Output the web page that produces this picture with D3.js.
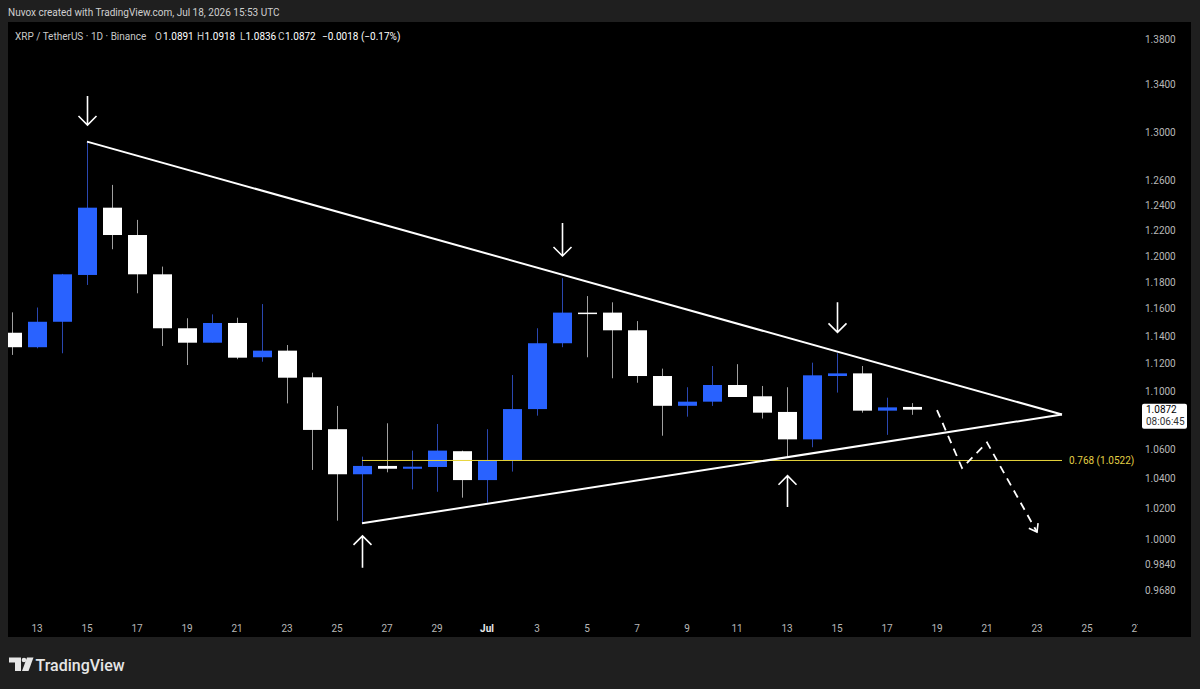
<!DOCTYPE html>
<html lang="en">
<head>
<meta charset="UTF-8">
<title>XRP / TetherUS 1D</title>
<script src="https://d3js.org/d3.v7.min.js"></script>
<style>
  body { margin: 0; background: #1f1f1f; }
  svg { display: block; font-family: Roboto, "Open Sans", sans-serif; }
</style>
</head>
<body>
<div id="chart"></div>
<script>
// daily candles XRP/USDT, Jun 12 - Jul 18 2026
const days = ["2026-06-12","2026-06-13","2026-06-14","2026-06-15","2026-06-16","2026-06-17","2026-06-18",
  "2026-06-19","2026-06-20","2026-06-21","2026-06-22","2026-06-23","2026-06-24","2026-06-25","2026-06-26",
  "2026-06-27","2026-06-28","2026-06-29","2026-06-30","2026-07-01","2026-07-02","2026-07-03","2026-07-04",
  "2026-07-05","2026-07-06","2026-07-07","2026-07-08","2026-07-09","2026-07-10","2026-07-11","2026-07-12",
  "2026-07-13","2026-07-14","2026-07-15","2026-07-16","2026-07-17","2026-07-18"];
const opens  = [1.1424,1.1318,1.1505,1.1857,1.2382,1.2166,1.1862,1.1457,1.1351,1.1496,1.1245,1.1293,1.1101,1.0736,1.0429,1.0485,1.0466,1.0478,1.0585,
                1.0390,1.0525,1.0876,1.1347,1.1573,1.1573,1.1442,1.1110,1.0899,1.0928,1.1046,1.0966,1.0856,1.0666,1.1110,1.1129,1.0865,1.0891];
const highs  = [1.1575,1.1611,1.1865,1.2920,1.2565,1.2285,1.1921,1.1531,1.1560,1.1535,1.1637,1.1334,1.1134,1.0898,1.0548,1.0777,1.0589,1.0772,1.0589,
                1.0736,1.1117,1.1457,1.1832,1.1697,1.1650,1.1510,1.1163,1.1030,1.1182,1.1195,1.1039,1.1030,1.1206,1.1274,1.1182,1.0956,1.0918];
const lows   = [1.1262,1.1310,1.1274,1.1781,1.2055,1.1718,1.1327,1.1189,1.1351,1.1231,1.1213,1.0916,1.0458,1.0122,1.0105,1.0442,1.0328,1.0312,1.0273,
                1.0240,1.0447,1.0830,1.1318,1.1245,1.1094,1.1062,1.0691,1.0823,1.0898,1.0961,1.0810,1.0544,1.0612,1.0992,1.0851,1.0697,1.0836];
const closes = [1.1318,1.1505,1.1862,1.2382,1.2166,1.1862,1.1457,1.1351,1.1496,1.1242,1.1293,1.1098,1.0731,1.0429,1.0485,1.0466,1.0480,1.0589,1.0390,
                1.0525,1.0876,1.1347,1.1573,1.1563,1.1442,1.1110,1.0899,1.0928,1.1046,1.0961,1.0851,1.0666,1.1115,1.1129,1.0865,1.0888,1.0872];

// axes
const priceTicks = [1.38,1.34,1.30,1.26,1.24,1.22,1.20,1.18,1.16,1.14,1.12,1.10,1.06,1.04,1.02,1.00,0.984,0.968];
const timeTickDays = ["2026-06-13","2026-06-15","2026-06-17","2026-06-19","2026-06-21","2026-06-23","2026-06-25","2026-06-27",
  "2026-06-29","2026-07-01","2026-07-03","2026-07-05","2026-07-07","2026-07-09","2026-07-11","2026-07-13","2026-07-15",
  "2026-07-17","2026-07-19","2026-07-21","2026-07-23","2026-07-25","2026-07-27"];
const timeTickLabels = ["13","15","17","19","21","23","25","27","29","Jul","3","5","7","9","11","13","15","17","19","21","23","25","27"];

// drawings: [day, price]
const resistanceLine = [["2026-06-15",1.2920],["2026-07-24",1.0838]];
const supportLine = [["2026-06-26",1.0105],["2026-07-24",1.0838]];
const fibLine = [["2026-06-26",1.0522],["2026-07-24",1.0522]];
const fibLabel = "0.768 (1.0522)";
const projectionPath = [["2026-07-19",1.0869],["2026-07-20",1.0471],["2026-07-21",1.0645],["2026-07-23",1.0048]];
// [day, tail price, tip price]
const downArrows = [["2026-06-15",1.3305,1.3059],["2026-07-04",1.2260,1.2003],["2026-07-15",1.1650,1.1427]];
const upArrows = [["2026-06-26",0.9819,1.0023],["2026-07-13",1.0211,1.0419]];

const lastPrice = 1.0872;
const countdown = "08:06:45";

const W = 1200, H = 689;
const parse = d3.utcParse("%Y-%m-%d");

const svg = d3.select("#chart").append("svg").attr("width", W).attr("height", H);
svg.append("rect").attr("width", W).attr("height", H).attr("fill", "#1f1f1f");
svg.append("rect").attr("x", 8).attr("y", 22).attr("width", 1183).attr("height", 615).attr("fill", "#000");

const x = d3.scaleUtc().domain([parse("2026-06-13"), parse("2026-07-01")]).range([37, 487]);
const y = d3.scaleLog().domain([0.968, 1.38]).range([590, 39.3]);

svg.append("clipPath").attr("id", "pane").append("rect")
  .attr("x", 8).attr("y", 22).attr("width", 1132).attr("height", 592);
svg.append("clipPath").attr("id", "timeaxis").append("rect")
  .attr("x", 8).attr("y", 614).attr("width", 1130).attr("height", 23);

// header
svg.append("text").attr("x", 8).attr("y", 15.5).attr("fill", "#d0d0d0")
  .attr("font-size", 10).text("Nuvox created with TradingView.com, Jul 18, 2026 15:53 UTC");

const legend = svg.append("text").attr("y", 39.5).attr("font-size", 10);
const legendParts = [
  [15, "XRP / TetherUS · 1D · Binance", "#c8c8c8"],
  [155, "O", "#c8c8c8"], [163, "1.0891", "#ffffff"],
  [197, "H", "#c8c8c8"], [204.5, "1.0918", "#ffffff"],
  [240, "L", "#c8c8c8"], [245.5, "1.0836", "#ffffff"],
  [278, "C", "#c8c8c8"], [285, "1.0872", "#ffffff"],
  [322, "−0.0018 (−0.17%)", "#ffffff"]
];
legendParts.forEach(p => legend.append("tspan").attr("x", p[0]).attr("fill", p[2]).text(p[1]));

// candles
const candles = days.map((d, i) => ({ date: parse(d), o: opens[i], h: highs[i], l: lows[i], c: closes[i] }));
const plot = svg.append("g").attr("clip-path", "url(#pane)");

plot.selectAll(".wick").data(candles).join("line")
  .attr("x1", d => Math.round(x(d.date)) + 0.5).attr("x2", d => Math.round(x(d.date)) + 0.5)
  .attr("y1", d => y(d.h)).attr("y2", d => y(d.l))
  .attr("stroke", d => d.c > d.o ? "#2a47b0" : "#a0a0a0").attr("stroke-width", 1);

plot.selectAll(".body").data(candles).join("rect")
  .attr("x", d => Math.round(x(d.date)) - 9).attr("width", 19)
  .attr("y", d => y(Math.max(d.o, d.c)))
  .attr("height", d => Math.max(1.5, y(Math.min(d.o, d.c)) - y(Math.max(d.o, d.c))))
  .attr("fill", d => d.c > d.o ? "#2962ff" : "#ffffff");

// drawings
const line = d3.line().x(p => x(parse(p[0]))).y(p => y(p[1]));

plot.append("path").attr("d", line(fibLine)).attr("stroke", "#e8d53c").attr("stroke-width", 1).attr("fill", "none");
plot.append("text").attr("x", x(parse(fibLine[1][0])) + 7).attr("y", y(fibLine[1][1])).attr("dy", "0.35em")
  .attr("fill", "#e3cf45").attr("font-size", 10).text(fibLabel);

[resistanceLine, supportLine].forEach(l =>
  plot.append("path").attr("d", line(l)).attr("stroke", "#fff").attr("stroke-width", 2).attr("fill", "none"));

plot.append("path").attr("d", line(projectionPath)).attr("stroke", "#fff").attr("stroke-width", 1.8)
  .attr("stroke-dasharray", "8,6").attr("fill", "none");
{
  const n = projectionPath.length;
  const a = [x(parse(projectionPath[n - 2][0])), y(projectionPath[n - 2][1])];
  const b = [x(parse(projectionPath[n - 1][0])), y(projectionPath[n - 1][1])];
  const ang = Math.atan2(b[1] - a[1], b[0] - a[0]);
  const head = [ang + Math.PI * 0.8, ang - Math.PI * 0.8].map(t => [b[0] + 9 * Math.cos(t), b[1] + 9 * Math.sin(t)]);
  plot.append("path").attr("d", `M${head[0]}L${b}L${head[1]}`).attr("stroke", "#fff").attr("stroke-width", 1.6).attr("fill", "none");
}

function arrow(day, tail, tip) {
  const ax = Math.round(x(parse(day))) + 0.5, y0 = y(tail), y1 = y(tip);
  const s = y1 > y0 ? -9 : 9;
  plot.append("path").attr("d", `M${ax},${y0}V${y1}M${ax - 9},${y1 + s}L${ax},${y1}L${ax + 9},${y1 + s}`)
    .attr("stroke", "#fff").attr("stroke-width", 1.6).attr("fill", "none");
}
downArrows.forEach(a => arrow(...a));
upArrows.forEach(a => arrow(...a));

// price axis
svg.append("g").selectAll("text").data(priceTicks).join("text")
  .attr("x", 1145).attr("y", d => y(d)).attr("dy", "0.35em")
  .attr("fill", "#b8b8b8").attr("font-size", 10)
  .text(d => d.toFixed(4));

const py = y(lastPrice);
svg.append("rect").attr("x", 1142).attr("y", py - 6).attr("width", 45).attr("height", 25).attr("rx", 2).attr("fill", "#fff");
svg.append("text").attr("x", 1146).attr("y", py + 3.5).attr("fill", "#000").attr("font-size", 10).text(lastPrice.toFixed(4));
svg.append("text").attr("x", 1146).attr("y", py + 15.5).attr("fill", "#333").attr("font-size", 10).text(countdown);

// time axis
svg.append("g").attr("clip-path", "url(#timeaxis)").selectAll("text").data(timeTickDays).join("text")
  .attr("x", d => x(parse(d))).attr("y", 631.5).attr("text-anchor", "middle")
  .attr("font-size", 10)
  .attr("fill", (d, i) => timeTickLabels[i] === "Jul" ? "#e8e8e8" : "#b8b8b8")
  .attr("font-weight", (d, i) => timeTickLabels[i] === "Jul" ? 700 : 400)
  .text((d, i) => timeTickLabels[i]);

// TradingView logo
const logo = svg.append("g").attr("fill", "#e6e6e6");
logo.append("path").attr("d", "M9,657.5H21V671H15V662.5H9Z");
logo.append("circle").attr("cx", 24).attr("cy", 660).attr("r", 2.3);
logo.append("path").attr("d", "M27,657.5H33.5L28.5,671H22Z");
logo.append("text").attr("x", 35.5).attr("y", 670.5).attr("font-size", 16).attr("font-weight", 500)
  .attr("fill", "#e6e6e6").text("TradingView");
</script>
</body>
</html>
